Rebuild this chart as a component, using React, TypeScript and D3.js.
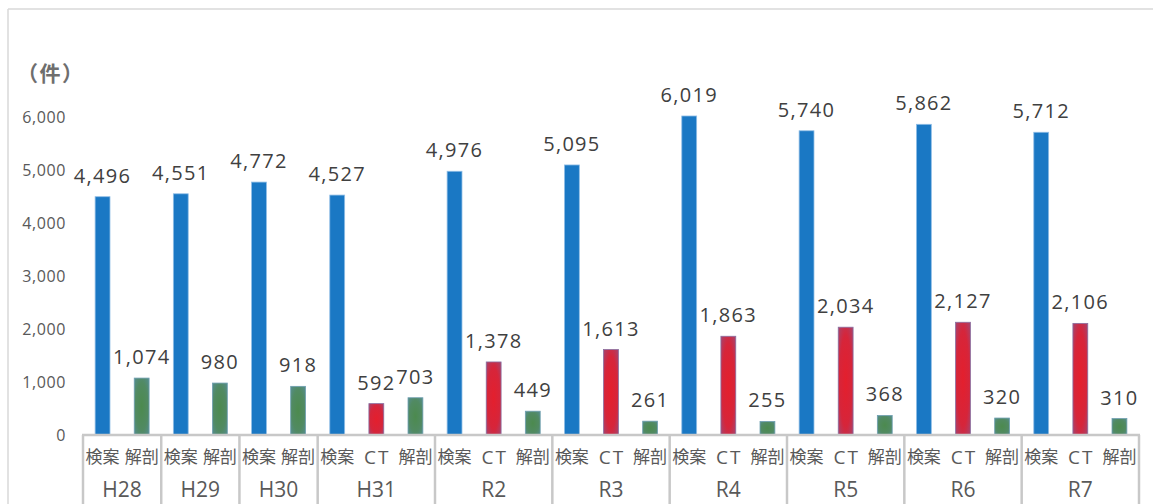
import React from "react";
import * as d3 from "d3";

const years = ["H28", "H29", "H30", "H31", "R2", "R3", "R4", "R5", "R6", "R7"];
const kenanValues = [4496, 4551, 4772, 4527, 4976, 5095, 6019, 5740, 5862, 5712];
const ctValues = [null, null, null, 592, 1378, 1613, 1863, 2034, 2127, 2106];
const kaiboValues = [1074, 980, 918, 703, 449, 261, 255, 368, 320, 310];
const yTicks = [0, 1000, 2000, 3000, 4000, 5000, 6000];

const W = 1153;
const H = 504;
const font = "'Open Sans', 'Noto Sans CJK JP', sans-serif";

type Bar = { key: string; year: string; kind: string; label: string; value: number };

// one leaf per bar, CT only where it exists
const bars: Bar[] = [];
years.forEach((y, i) => {
  bars.push({ key: `${y}-k`, year: y, kind: "k", label: "検案", value: kenanValues[i] });
  if (ctValues[i] != null) bars.push({ key: `${y}-c`, year: y, kind: "c", label: "CT", value: ctValues[i] as number });
  bars.push({ key: `${y}-a`, year: y, kind: "a", label: "解剖", value: kaiboValues[i] });
});

const fills: Record<string, string> = { k: "#1a78c4", c: "url(#gradRed)", a: "url(#gradGreen)" };
const strokes: Record<string, string> = { k: "#8fbde6", c: "#8a6fa0", a: "#6f9fb0" };

export default function App() {
  const x = d3.scaleBand<string>().domain(bars.map((b) => b.key)).range([83, 1139]).paddingInner(0.62).paddingOuter(0.31);
  const y = d3.scaleLinear().domain([0, 6000]).range([435, 117]);
  const fmt = d3.format(",");
  const step = x.step();
  const x0 = 83;

  // group spans
  const groups = years.map((yr) => {
    const keys = bars.filter((b) => b.year === yr).map((b) => b.key);
    const start = (x(keys[0]) as number) - (step - x.bandwidth()) / 2;
    const end = (x(keys[keys.length - 1]) as number) + x.bandwidth() + (step - x.bandwidth()) / 2;
    return { yr, start, end };
  });

  return (
    <svg width={W} height={H} style={{ position: "absolute", left: 0, top: 0, background: "#fff" }} fontFamily={font}>
      <defs>
        <radialGradient id="gradRed" cx="50%" cy="50%" r="70%">
          <stop offset="0%" stopColor="#e41f2d" />
          <stop offset="60%" stopColor="#d6253a" />
          <stop offset="100%" stopColor="#a44570" />
        </radialGradient>
        <radialGradient id="gradGreen" cx="50%" cy="50%" r="70%">
          <stop offset="0%" stopColor="#4c8a4e" />
          <stop offset="60%" stopColor="#518a62" />
          <stop offset="100%" stopColor="#558d90" />
        </radialGradient>
      </defs>

      {/* frame */}
      <line x1={8} x2={8} y1={9} y2={H} stroke="#d9d9d9" strokeWidth={1.5} />
      <line x1={8} x2={W} y1={9} y2={9} stroke="#d9d9d9" strokeWidth={1.5} />

      <text x={17} y={81} fontSize={21} fontWeight="bold" fill="#6e6e6e" letterSpacing={1.5}
        fontFamily="'Noto Sans CJK JP', sans-serif">（件）</text>

      {yTicks.map((t) => (
        <text key={t} x={66} y={y(t)} dy="0.36em" textAnchor="end" fontSize={16} fill="#595959" letterSpacing={0.6}>
          {fmt(t)}
        </text>
      ))}

      {bars.map((b) => (
        <g key={b.key}>
          <rect
            x={x(b.key)}
            y={y(b.value)}
            width={x.bandwidth()}
            height={y(0) - y(b.value)}
            fill={fills[b.kind]}
            stroke={strokes[b.kind]}
            strokeWidth={0.8}
          />
          <text
            x={(x(b.key) as number) + x.bandwidth() / 2}
            y={y(b.value) - 14}
            textAnchor="middle"
            fontSize={20}
            fill="#404040"
            letterSpacing={1.3}
          >
            {fmt(b.value)}
          </text>
          <text
            x={(x(b.key) as number) + x.bandwidth() / 2 + (b.kind === "c" ? 1 : 0)}
            y={457}
            dy="0.36em"
            textAnchor="middle"
            fontSize={b.kind === "c" ? 19 : 17}
            fill="#595959"
            letterSpacing={b.kind === "c" ? 2 : 0}
          >
            {b.label}
          </text>
        </g>
      ))}

      {/* category axis */}
      <line x1={x0 - 1} x2={1140} y1={435} y2={435} stroke="#c8c8c8" strokeWidth={2.5} />
      <line x1={x0} x2={x0} y1={435} y2={H} stroke="#c8c8c8" strokeWidth={2.5} />
      {groups.map((g) => (
        <g key={g.yr}>
          <line x1={g.end} x2={g.end} y1={435} y2={H} stroke="#c8c8c8" strokeWidth={2.5} />
          <text x={(g.start + g.end) / 2} y={489} dy="0.36em" textAnchor="middle" fontSize={21} fill="#595959">
            {g.yr}
          </text>
        </g>
      ))}
    </svg>
  );
}
